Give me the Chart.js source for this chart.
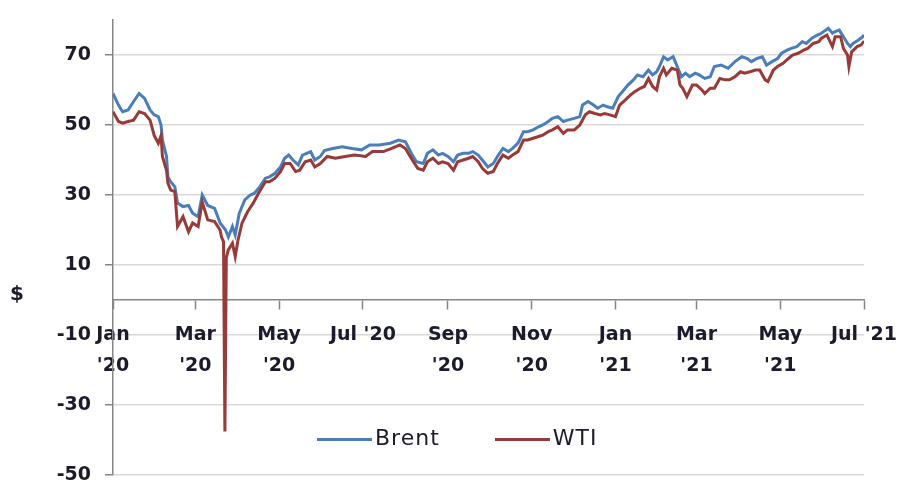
<!DOCTYPE html>
<html>
<head>
<meta charset="utf-8">
<script src="https://cdn.jsdelivr.net/npm/chart.js@4.4.1/dist/chart.umd.min.js"></script>
<style>
    body { margin: 0; background: #fff; }
    #wrap { position: relative; width: 902px; height: 482px; }
    #unit { position: absolute; left: 10px; top: 281px; font: bold 20px "DejaVu Sans"; color: #1b1b2b; }
    #legend { position: absolute; left: 317px; top: 423px; height: 28px; display: flex; align-items: center; gap: 55px;
              font: 22px "DejaVu Sans"; letter-spacing: 1px; color: #1b1b2b; }
    #legend .item { display: flex; align-items: center; }
    #legend .swatch { display: inline-block; width: 55px; height: 3px; margin-right: 3px; margin-top: 4px; }
</style>
</head>
<body>
<div id="wrap">
    <canvas id="mainChart"></canvas>
    <div id="unit">$</div>
    <div id="legend"></div>
</div>
<script>
// x positions are day offsets from the first axis label (Jan '20)
const tickDays = [0, 60, 121, 182, 244, 305, 366, 425, 486, 547];
const tickLabels = [['Jan', "'20"], ['Mar', "'20"], ['May', "'20"], "Jul '20", ['Sep', "'20"],
                    ['Nov', "'20"], ['Jan', "'21"], ['Mar', "'21"], ['May', "'21"], "Jul '21"];
const yTicks = [-50, -30, -10, 10, 30, 50, 70];

const brentDays = [0, 4, 7, 11, 15, 19, 23, 27, 30, 33, 35, 36, 39, 40, 42, 45, 47, 51, 55, 58,
    62, 65, 69, 74, 78, 82, 84, 87, 89, 92, 96, 100, 103, 107, 111, 114, 118, 122, 125, 128,
    131, 135, 138, 144, 147, 151, 154, 160, 167, 174, 181, 187, 194, 202, 208, 213, 218, 221, 226, 229,
    233, 237, 240, 244, 248, 251, 255, 259, 262, 266, 269, 273, 277, 280, 284, 288, 291, 295, 299, 302,
    306, 310, 313, 317, 320, 324, 328, 331, 336, 340, 342, 346, 350, 353, 357, 360, 364, 368, 371, 375,
    379, 382, 386, 390, 393, 396, 398, 401, 404, 408, 411, 414, 417, 420, 424, 427, 431, 435, 438, 443,
    448, 453, 458, 462, 465, 469, 473, 476, 480, 484, 487, 491, 494, 498, 502, 505, 509, 513, 516, 521,
    524, 526, 529, 532, 535, 537, 539, 543, 546, 547];
const brentValues = [59, 55.7, 53.8, 54.3, 56.7, 59, 57.6, 54.3, 52.9, 52.4, 50, 45.7, 41, 35.2, 33.8, 32.4, 27.7, 26.7, 27, 24.8,
    23.8, 30, 27, 26.2, 22, 20, 18, 21, 18.6, 24.8, 28.6, 30, 30.5, 32.4, 34.8, 35.2, 36.2, 38, 40.5, 41.4,
    40, 38.6, 41.4, 42.4, 40, 41, 42.7, 43.3, 43.8, 43.3, 42.9, 44.3, 44.3, 44.8, 45.7, 45.2, 41.4, 39.5, 39, 41.9,
    42.9, 41.4, 41.9, 41, 39.5, 41.4, 41.9, 41.9, 42.4, 41.4, 40, 38, 39, 41, 43.3, 42.4, 43.3, 44.8, 48.1, 48.1,
    48.6, 49.5, 50, 51, 51.9, 52.4, 51, 51.4, 51.9, 52.4, 55.7, 56.7, 55.7, 54.8, 55.7, 55.2, 54.8, 58.1, 59.5, 61.4,
    62.9, 64.3, 63.8, 65.7, 64.3, 65.2, 66.7, 69.5, 68.6, 69.5, 66.7, 63.8, 64.8, 63.8, 64.8, 64.3, 63.3, 63.8, 66.7, 67.1,
    66.2, 68.1, 69.5, 69, 68.1, 69, 69.5, 67.1, 68.1, 69, 70.5, 71.4, 71.9, 72.4, 73.8, 73.3, 74.8, 75.7, 76.2, 77.6,
    76.2, 76.7, 77.1, 75.2, 73.3, 72.4, 73.3, 74.3, 75.2, 75.7];

const wtiDays = [0, 4, 7, 11, 15, 19, 23, 27, 30, 33, 35, 36, 39, 40, 42, 45, 47, 51, 55, 58,
    62, 65, 69, 74, 78, 79, 80.5, 81.5, 82.5, 84, 87, 89, 91, 94, 98, 102, 106, 111, 114, 118,
    122, 125, 129, 133, 136, 140, 144, 147, 151, 156, 162, 169, 176, 184, 189, 197, 203, 209, 213, 218,
    222, 226, 229, 233, 237, 240, 244, 248, 251, 255, 259, 262, 266, 269, 273, 277, 280, 284, 288, 291,
    295, 299, 302, 306, 310, 313, 317, 320, 324, 328, 331, 336, 340, 344, 347, 351, 355, 358, 362, 366,
    369, 373, 377, 380, 384, 387, 390, 393, 396, 398, 401, 403, 407, 411, 413, 415, 418, 422, 425, 429,
    431, 435, 438, 442, 446, 449, 453, 457, 460, 464, 468, 471, 475, 477, 481, 484, 488, 492, 495, 499,
    503, 506, 510, 514, 516, 520, 524, 526, 530, 532, 535, 536, 538, 542, 545, 547];
const wtiValues = [53.8, 51, 50.5, 51, 51.4, 53.8, 53.3, 51.4, 47, 44.8, 47, 41, 37, 33.4, 31.4, 31, 21, 23.8, 19.5, 22,
    21, 28, 22.9, 22.4, 20, 18, 16.7, -37.6, 12, 14.3, 16.2, 12.4, 17, 22, 25.2, 27.6, 30.5, 33.8, 33.8, 34.8,
    36.7, 39, 39, 36.7, 37.1, 39.5, 40, 38, 39, 41, 40.5, 41, 41.4, 41, 42.4, 42.4, 43.3, 44.3, 43.3, 40,
    37.6, 37.1, 39.5, 40.5, 39, 39.5, 39, 37.1, 39.5, 40, 40.5, 41, 39.5, 37.6, 36.2, 36.7, 39, 41.4, 40.5, 41.4,
    42.4, 45.7, 45.7, 46.2, 46.7, 47.1, 48.1, 48.6, 49.5, 47.6, 48.6, 48.6, 50, 52.9, 53.8, 53.3, 52.9, 53.3, 52.9, 52.4,
    55.7, 57.1, 58.6, 59.5, 60.5, 61, 63.3, 61, 60, 63.8, 66.2, 64.3, 66.2, 65.7, 61.4, 60.5, 58.1, 61.4, 61.4, 60,
    59, 60.5, 60.5, 63.3, 62.9, 62.9, 63.8, 65.2, 64.8, 65.2, 65.7, 65.7, 62.9, 62.4, 65.7, 66.7, 67.6, 69, 70, 70.5,
    71.4, 71.9, 73.3, 73.8, 74.8, 75.7, 72.4, 75.2, 75.2, 71.9, 70, 66.7, 70.9, 72.4, 72.9, 74];

const textColor = '#1b1b2b';
const axisColor = '#868686';
const tickFont = { family: 'DejaVu Sans', size: 19, weight: 'bold', lineHeight: 1.66 };

const toPoints = (days, vals) => days.map((d, i) => ({ x: d, y: vals[i] }));

const datasets = [
    { label: 'Brent', data: toPoints(brentDays, brentValues), borderColor: '#4A7EBB', order: 1 },
    { label: 'WTI', data: toPoints(wtiDays, wtiValues), borderColor: '#983A37', order: 0 }
].map(ds => ({ ...ds, borderWidth: 3, pointRadius: 0, tension: 0, fill: false }));

// keep the plot area fixed: no extra room reserved for edge labels
const noPad = s => { s.paddingLeft = 0; s.paddingRight = 0; s.paddingTop = 0; s.paddingBottom = 0; };

const ctx = document.getElementById('mainChart').getContext('2d');
const mainChart = new Chart(ctx, {
    type: 'line',
    data: { datasets },
    options: {
        responsive: true,
        maintainAspectRatio: false,
        animation: false,
        layout: { padding: { top: 20, right: 38, bottom: 7, left: 0 } },
        plugins: { legend: { display: false }, tooltip: { enabled: false } },
        scales: {
            x: {
                type: 'linear',
                position: { y: 0 },
                min: 0,
                max: 547,
                afterBuildTicks: s => { s.ticks = tickDays.map(v => ({ value: v })); },
                afterFit: noPad,
                grid: { drawOnChartArea: false, tickLength: 9, tickColor: axisColor, tickWidth: 1.5 },
                border: { color: axisColor, width: 1.5 },
                ticks: {
                    autoSkip: false, maxRotation: 0, padding: 10,
                    color: textColor, font: tickFont,
                    callback: (v, i) => tickLabels[i]
                }
            },
            y: {
                min: -50,
                max: 80,
                afterBuildTicks: s => { s.ticks = yTicks.map(v => ({ value: v })); },
                afterFit: s => { s.width = 113; noPad(s); },
                grid: { color: '#D9D9D9', lineWidth: 1.5, tickLength: 8, tickColor: axisColor, tickWidth: 1.5 },
                border: { color: axisColor, width: 1.5 },
                ticks: { padding: 14, color: textColor, font: tickFont }
            }
        }
    }
});

// legend drawn from the datasets
const legendEl = document.getElementById('legend');
mainChart.data.datasets.forEach(ds => {
    const item = document.createElement('span');
    item.className = 'item';
    const sw = document.createElement('span');
    sw.className = 'swatch';
    sw.style.background = ds.borderColor;
    item.appendChild(sw);
    item.appendChild(document.createTextNode(ds.label));
    legendEl.appendChild(item);
});
</script>
</body>
</html>
